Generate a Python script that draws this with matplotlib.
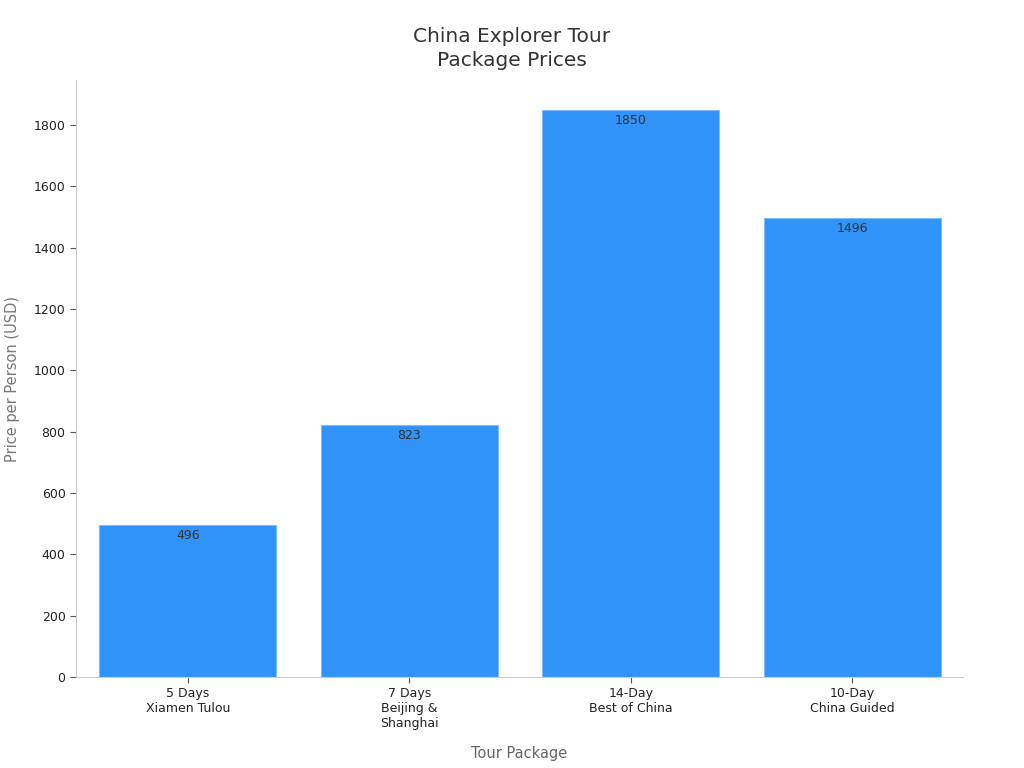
import matplotlib
matplotlib.use("Agg")
import matplotlib.pyplot as plt

packages = ["5 Days\nXiamen Tulou", "7 Days\nBeijing &\nShanghai", "14-Day\nBest of China", "10-Day\nChina Guided"]
prices = [496, 823, 1850, 1496]

fig = plt.figure(figsize=(10.24, 7.68), dpi=100)
ax = fig.add_axes([0.0742, 0.1185, 0.8662, 0.7773])

x = range(len(packages))
bars = ax.bar(x, prices, width=0.8, color="#2F93F8", edgecolor="#7FBCF8", linewidth=0.8)

for b, v in zip(bars, prices):
    ax.annotate(str(v), (b.get_x() + b.get_width() / 2, v), xytext=(0, -3),
                textcoords="offset points", ha="center", va="top",
                fontsize=9, color="#333333")

ax.set_xlim(-0.505, 3.5)
ax.set_ylim(0, 1947)
ax.set_xticks(list(x))
ax.set_xticklabels(packages, fontsize=9, color="#222222")
ax.set_yticks(range(0, 1801, 200))
ax.tick_params(axis="y", labelsize=9, labelcolor="#222222", color="#555555", length=4)
ax.tick_params(axis="x", color="#555555", length=4)

for s in ["top", "right"]:
    ax.spines[s].set_visible(False)
for s in ["left", "bottom"]:
    ax.spines[s].set_color("#cccccc")

ax.set_xlabel("Tour Package", fontsize=10.5, color="#666666", labelpad=11)
ax.set_ylabel("Price per Person (USD)", fontsize=10.5, color="#777777", labelpad=10)
fig.suptitle("China Explorer Tour\nPackage Prices", x=0.5, y=0.9088, va="bottom",
             fontsize=14.5, color="#333333", linespacing=1.35)

fig.savefig("out.png", dpi=100)
